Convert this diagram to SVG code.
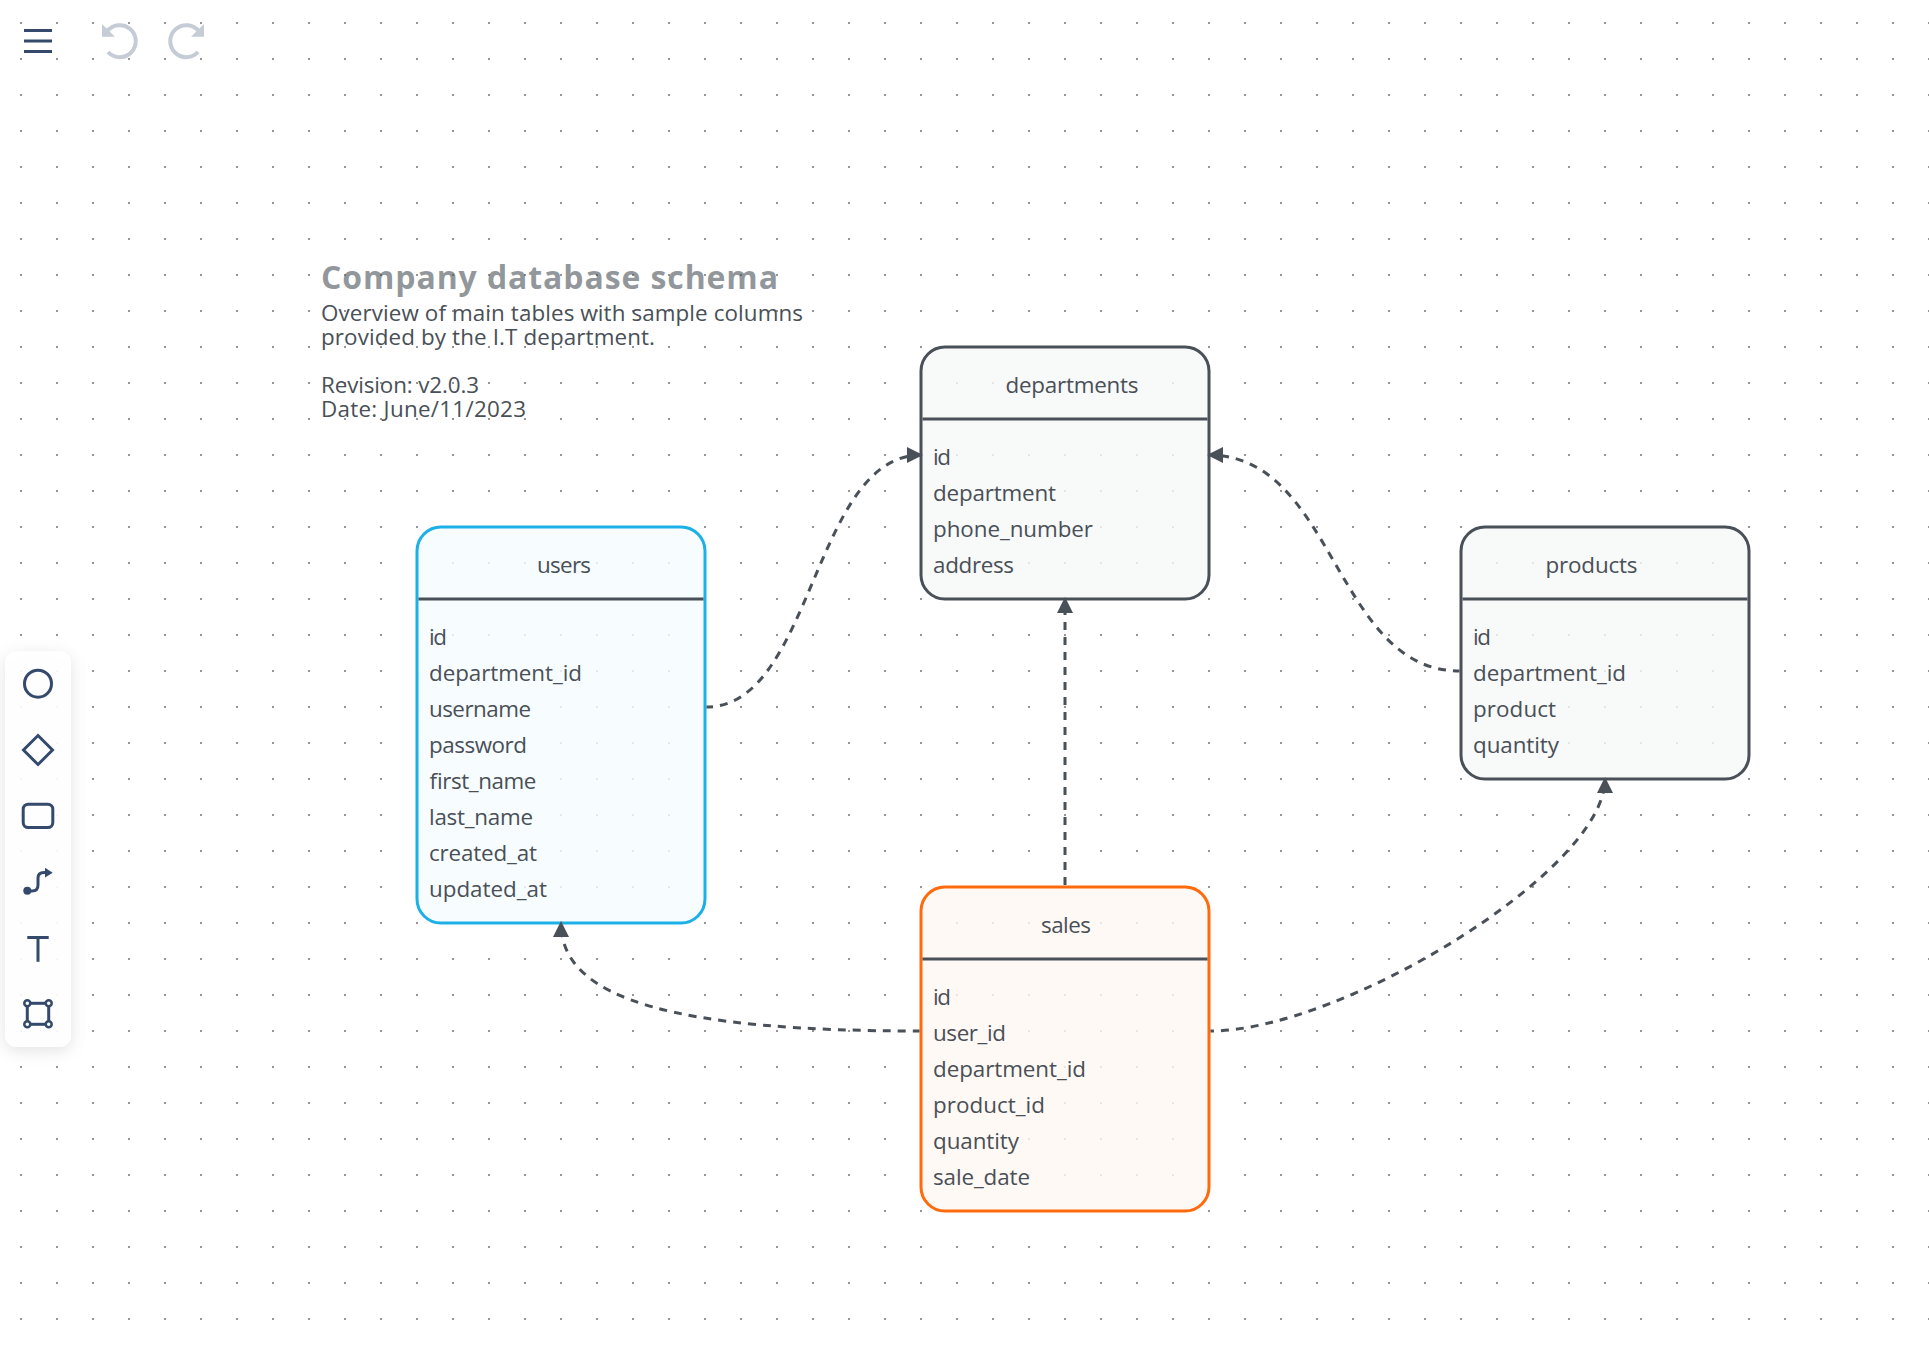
<svg xmlns="http://www.w3.org/2000/svg" width="1929" height="1354" viewBox="0 0 1929 1354">
<style>
text{font-family:"Open Sans","Noto Sans","Liberation Sans",sans-serif;font-size:22.4px;fill:#495057}
.ttl{font-weight:700;font-size:32px;fill-opacity:.6}
.box{stroke-width:3}
.grey{stroke:#495057;fill:#f6f7f8;fill-opacity:.8}
.blue{stroke:#1cb0e8;fill:#f5fbff;fill-opacity:.8}
.orange{stroke:#ff6a0d;fill:#fff7f3;fill-opacity:.8}
.div{stroke:#495057;stroke-width:3}
.edge{fill:none;stroke:#495057;stroke-width:3;stroke-dasharray:8 7;marker-end:url(#arrow)}
.ic{fill:none;stroke:#344a6c;stroke-width:3}
.hist{fill:none;stroke:#c5ccd6;stroke-width:4}
</style>
<defs>
<pattern id="dots" x="0" y="0" width="36" height="36" patternUnits="userSpaceOnUse">
<rect x="20" y="22" width="2" height="2" fill="#959595"/>
</pattern>
<marker id="arrow" markerUnits="userSpaceOnUse" markerWidth="16" markerHeight="16" viewBox="0 0 16 16" refX="14" refY="8" orient="auto">
<polygon points="0,0 16,8 0,16" fill="#495057"/>
</marker>
<filter id="shadow" x="-60%" y="-20%" width="220%" height="140%">
<feDropShadow dx="0" dy="4" stdDeviation="8" flood-color="#000" flood-opacity=".12"/>
</filter>
</defs>
<rect width="1929" height="1354" fill="#fff"/>
<rect width="1929" height="1354" fill="url(#dots)"/>

<g id="users">
<rect class="box blue" x="417" y="527" width="288" height="396" rx="24"/>
<line class="div" x1="418.5" y1="599" x2="703.5" y2="599"/>
<text x="537" y="573" textLength="54">users</text>
<text x="429" y="645" textLength="18">id</text>
<text x="429" y="681" textLength="153">department_id</text>
<text x="429" y="717" textLength="102">username</text>
<text x="429" y="753" textLength="98">password</text>
<text x="429" y="789" textLength="107">first_name</text>
<text x="429" y="825" textLength="104">last_name</text>
<text x="429" y="861" textLength="108">created_at</text>
<text x="429" y="897" textLength="118">updated_at</text>
</g>

<g id="departments">
<rect class="box grey" x="921" y="347" width="288" height="252" rx="24"/>
<line class="div" x1="922.5" y1="419" x2="1207.5" y2="419"/>
<text x="1005.5" y="393" textLength="133">departments</text>
<text x="933" y="465" textLength="18">id</text>
<text x="933" y="501" textLength="123">department</text>
<text x="933" y="537" textLength="160">phone_number</text>
<text x="933" y="573" textLength="81">address</text>
</g>

<g id="products">
<rect class="box grey" x="1461" y="527" width="288" height="252" rx="24"/>
<line class="div" x1="1462.5" y1="599" x2="1747.5" y2="599"/>
<text x="1545.5" y="573" textLength="92">products</text>
<text x="1473" y="645" textLength="18">id</text>
<text x="1473" y="681" textLength="153">department_id</text>
<text x="1473" y="717" textLength="83">product</text>
<text x="1473" y="753" textLength="86">quantity</text>
</g>

<g id="sales">
<rect class="box orange" x="921" y="887" width="288" height="324" rx="24"/>
<line class="div" x1="922.5" y1="959" x2="1207.5" y2="959"/>
<text x="1041" y="933" textLength="50">sales</text>
<text x="933" y="1005" textLength="18">id</text>
<text x="933" y="1041" textLength="73">user_id</text>
<text x="933" y="1077" textLength="153">department_id</text>
<text x="933" y="1113" textLength="112">product_id</text>
<text x="933" y="1149" textLength="86">quantity</text>
<text x="933" y="1185" textLength="97">sale_date</text>
</g>

<g id="connectors">
<path class="edge" stroke-dashoffset="1.5" d="M706.5,707 C813,707 813,455 921,455"/>
<path class="edge" stroke-dashoffset="1.5" d="M1459.5,671 C1335,671 1335,455 1209,455"/>
<path class="edge" stroke-dashoffset="14.5" d="M1065,885.5 L1065,599"/>
<path class="edge" stroke-dashoffset="1.5" d="M919.5,1031 C680,1031 561,1001 561,923"/>
<path class="edge" stroke-dashoffset="4.5" d="M1210.5,1031 C1341,1031 1605,871 1605,779"/>
</g>

<g id="title">
<text class="ttl" x="321" y="289" textLength="457">Company database schema</text>
<text x="321" y="321" textLength="482">Overview of main tables with sample columns</text>
<text x="321" y="345" textLength="334">provided by the I.T department.</text>
<text x="321" y="393" textLength="158">Revision: v2.0.3</text>
<text x="321" y="417" textLength="205">Date: June/11/2023</text>
</g>

<g id="menu">
<path class="ic" d="M24,30.5 H52 M24,41 H52 M24,51.5 H52"/>
</g>
<g id="undo">
<path class="hist" d="M107,31.5 A16,16 0 1 1 108,52"/>
<polygon points="102,24 102,36.7 115,36.7" fill="#c5ccd6"/>
</g>
<g id="redo">
<path class="hist" d="M199,31.5 A16,16 0 1 0 198,52"/>
<polygon points="204,24 204,36.7 191,36.7" fill="#c5ccd6"/>
</g>

<g id="toolbar">
<rect x="5" y="651" width="66" height="396" rx="12" fill="#fff" fill-opacity=".9" filter="url(#shadow)"/>
<circle class="ic" cx="38" cy="683.7" r="13.5"/>
<path class="ic" d="M38,735.5 L52.5,750 L38,764.5 L23.5,750 Z"/>
<rect class="ic" x="23.2" y="804.2" width="29.6" height="23.4" rx="5"/>
<path class="ic" d="M27,891 H32 Q38,891 38,885 V878 Q38,872.5 44,872.5 H47"/>
<circle cx="27.3" cy="890.7" r="4" fill="#344a6c"/>
<polygon points="45,867.7 52.7,872.7 45,877.5" fill="#344a6c"/>
<path class="ic" d="M27.3,937.5 H48.7 M38,937.5 V961.7"/>
<rect class="ic" x="27.3" y="1003.3" width="21.4" height="21"/>
<g fill="#fff" stroke="#344a6c" stroke-width="2.5">
<circle cx="27.3" cy="1003.3" r="3"/>
<circle cx="48.7" cy="1003.3" r="3"/>
<circle cx="27.3" cy="1024.3" r="3"/>
<circle cx="48.7" cy="1024.3" r="3"/>
</g>
</g>
</svg>
